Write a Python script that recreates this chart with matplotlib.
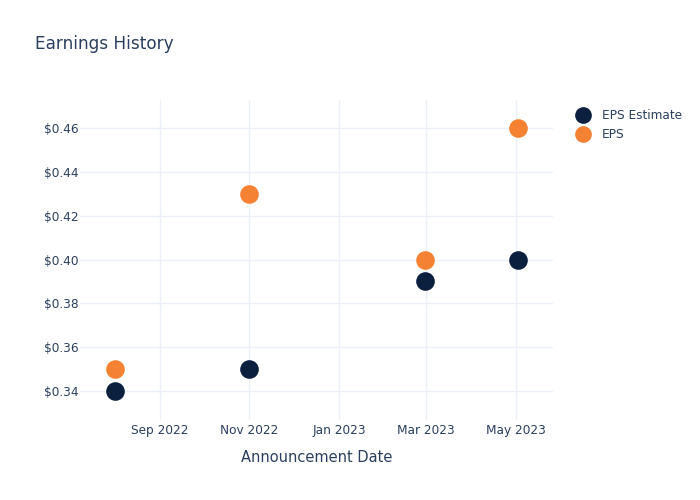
import matplotlib
matplotlib.use("Agg")
import matplotlib.pyplot as plt
import matplotlib.dates as mdates
from matplotlib.ticker import FuncFormatter
from matplotlib.lines import Line2D
import pandas as pd

# data
dates = pd.to_datetime(["2022-08-02", "2022-11-01", "2023-02-28", "2023-05-02"])
eps_estimate = [0.34, 0.35, 0.39, 0.40]
eps_actual = [0.35, 0.43, 0.40, 0.46]

navy = "#0b1f3f"
orange = "#f58233"
txt = "#2a3f5f"
grid = "#ebf0f8"

fig = plt.figure(figsize=(7, 5), dpi=100)
ax = fig.add_axes([80 / 700, 0.16, (553 - 80) / 700, 0.64])

ax.scatter(dates, eps_estimate, s=180, color=navy, zorder=3, linewidths=0)
ax.scatter(dates, eps_actual, s=180, color=orange, zorder=3, linewidths=0)

ax.set_xlim(pd.Timestamp("2022-07-09"), pd.Timestamp("2023-05-26"))
ax.set_ylim(0.3268, 0.4728)
ax.set_yticks([0.34, 0.36, 0.38, 0.40, 0.42, 0.44, 0.46])
ax.yaxis.set_major_formatter(FuncFormatter(lambda v, p: f"${v:.2f}"))
ax.xaxis.set_major_locator(mdates.MonthLocator(bymonth=[1, 3, 5, 9, 11]))
ax.xaxis.set_major_formatter(mdates.DateFormatter("%b %Y"))

for s in ax.spines.values():
    s.set_visible(False)
ax.grid(True, color=grid, linewidth=1)
ax.set_axisbelow(True)
ax.tick_params(length=0, colors=txt, labelsize=8.7)
ax.tick_params(axis="y", pad=1)
ax.tick_params(axis="x", pad=3)

ax.set_xlabel("Announcement Date", color=txt, fontsize=10.5, labelpad=9)
fig.text(35 / 700, 1 - 44 / 500, "Earnings History", color=txt, fontsize=12.2, va="center")

handles = [
    Line2D([], [], marker="o", linestyle="", markersize=11, color=navy, label="EPS Estimate"),
    Line2D([], [], marker="o", linestyle="", markersize=11, color=orange, label="EPS"),
]
fig.legend(handles=handles, loc="upper left", bbox_to_anchor=(566 / 700, 1 - 104 / 500),
           frameon=False, fontsize=8.7, labelcolor=txt, handletextpad=0.55,
           labelspacing=0.5, borderaxespad=0)

fig.savefig("out.png", dpi=100)
